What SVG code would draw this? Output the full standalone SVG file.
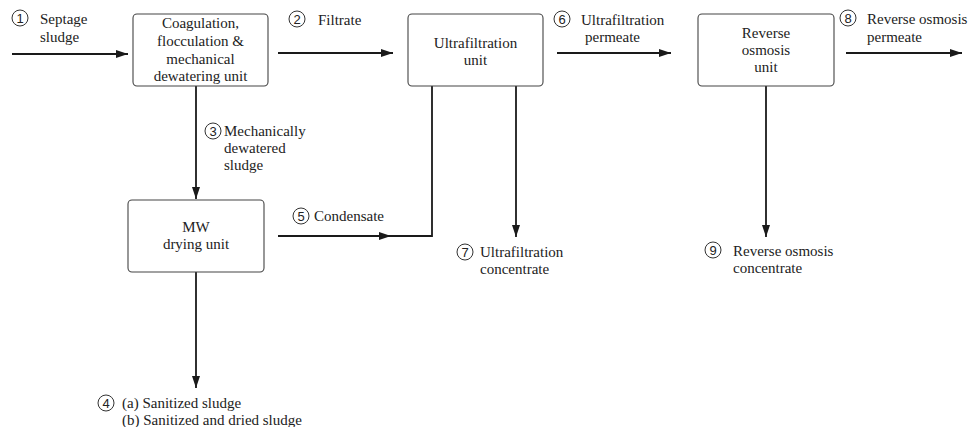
<svg xmlns="http://www.w3.org/2000/svg" width="969" height="427" viewBox="0 0 969 427">
<defs>
<marker id="ah" markerWidth="12" markerHeight="8" refX="12" refY="4" orient="auto" markerUnits="userSpaceOnUse">
<path d="M0,0 L12,4 L0,8 Z" fill="#1a1a1a"/>
</marker>
<style>
.box{fill:#fff;stroke:#444;stroke-width:1.1}
text.t{font-family:'Liberation Serif','Times New Roman','DejaVu Serif',serif;font-size:15px;fill:#222}
text.c{text-anchor:middle}
text.n{font-family:'Liberation Sans',Arial,sans-serif;font-size:13px;fill:#222;text-anchor:middle}
.ci{fill:none;stroke:#333;stroke-width:1}
.ln{fill:none;stroke:#1a1a1a;stroke-width:1.8}
</style>
</defs>
<rect width="969" height="427" fill="#fff"/>

<g id="connectors">
<line class="ln" x1="12" y1="54" x2="128" y2="54" marker-end="url(#ah)"/>
<line class="ln" x1="278" y1="53" x2="393" y2="53" marker-end="url(#ah)"/>
<line class="ln" x1="557" y1="53" x2="671" y2="53" marker-end="url(#ah)"/>
<line class="ln" x1="846" y1="53" x2="962" y2="53" marker-end="url(#ah)"/>
<line class="ln" x1="196" y1="86" x2="196" y2="199" marker-end="url(#ah)"/>
<line class="ln" x1="278" y1="236" x2="391" y2="236" marker-end="url(#ah)"/>
<polyline class="ln" points="389,236 432,236 432,86"/>
<line class="ln" x1="516" y1="86" x2="516" y2="237" marker-end="url(#ah)"/>
<line class="ln" x1="766" y1="86" x2="766" y2="237" marker-end="url(#ah)"/>
<line class="ln" x1="196" y1="272" x2="196" y2="388" marker-end="url(#ah)"/>
</g>

<g id="node-coagulation">
<rect class="box" x="133" y="14" width="135" height="72" rx="4"/>
<text class="t c" x="200.5" y="28">Coagulation,</text>
<text class="t c" x="200.5" y="46">flocculation &amp;</text>
<text class="t c" x="200.5" y="64">mechanical</text>
<text class="t c" x="200.5" y="81">dewatering unit</text>
</g>

<g id="node-ultrafiltration">
<rect class="box" x="408" y="14" width="135" height="72" rx="4"/>
<text class="t c" x="475.5" y="48">Ultrafiltration</text>
<text class="t c" x="475.5" y="65">unit</text>
</g>

<g id="node-reverse-osmosis">
<rect class="box" x="698" y="14" width="136" height="72" rx="4"/>
<text class="t c" x="766" y="38">Reverse</text>
<text class="t c" x="766" y="55">osmosis</text>
<text class="t c" x="766" y="72">unit</text>
</g>

<g id="node-mw-drying">
<rect class="box" x="128" y="200" width="136" height="72" rx="4"/>
<text class="t c" x="196" y="232">MW</text>
<text class="t c" x="196" y="249">drying unit</text>
</g>

<g id="labels">
<circle class="ci" cx="20" cy="18" r="8"/><text class="n" x="20" y="22.5">1</text>
<text class="t" x="40" y="24">Septage</text>
<text class="t" x="40" y="42">sludge</text>

<circle class="ci" cx="297" cy="19" r="8"/><text class="n" x="297" y="23.5">2</text>
<text class="t" x="318" y="25">Filtrate</text>

<circle class="ci" cx="213" cy="131" r="8"/><text class="n" x="213" y="135.5">3</text>
<text class="t" x="224" y="136">Mechanically</text>
<text class="t" x="224" y="153">dewatered</text>
<text class="t" x="224" y="170">sludge</text>

<circle class="ci" cx="106" cy="403" r="8"/><text class="n" x="106" y="407.5">4</text>
<text class="t" x="122" y="408">(a) Sanitized sludge</text>
<text class="t" x="122" y="425">(b) Sanitized and dried sludge</text>

<circle class="ci" cx="301" cy="216" r="8"/><text class="n" x="301" y="220.5">5</text>
<text class="t" x="314" y="221">Condensate</text>

<circle class="ci" cx="562" cy="19" r="8"/><text class="n" x="562" y="23.5">6</text>
<text class="t" x="581" y="25">Ultrafiltration</text>
<text class="t" x="585" y="42">permeate</text>

<circle class="ci" cx="465" cy="252" r="8"/><text class="n" x="465" y="256.5">7</text>
<text class="t" x="480" y="257">Ultrafiltration</text>
<text class="t" x="480" y="274">concentrate</text>

<circle class="ci" cx="848" cy="18" r="8"/><text class="n" x="848" y="22.5">8</text>
<text class="t" x="867" y="24">Reverse osmosis</text>
<text class="t" x="867" y="42">permeate</text>

<circle class="ci" cx="713" cy="250" r="8"/><text class="n" x="713" y="254.5">9</text>
<text class="t" x="733" y="256">Reverse osmosis</text>
<text class="t" x="733" y="273">concentrate</text>
</g>
</svg>
